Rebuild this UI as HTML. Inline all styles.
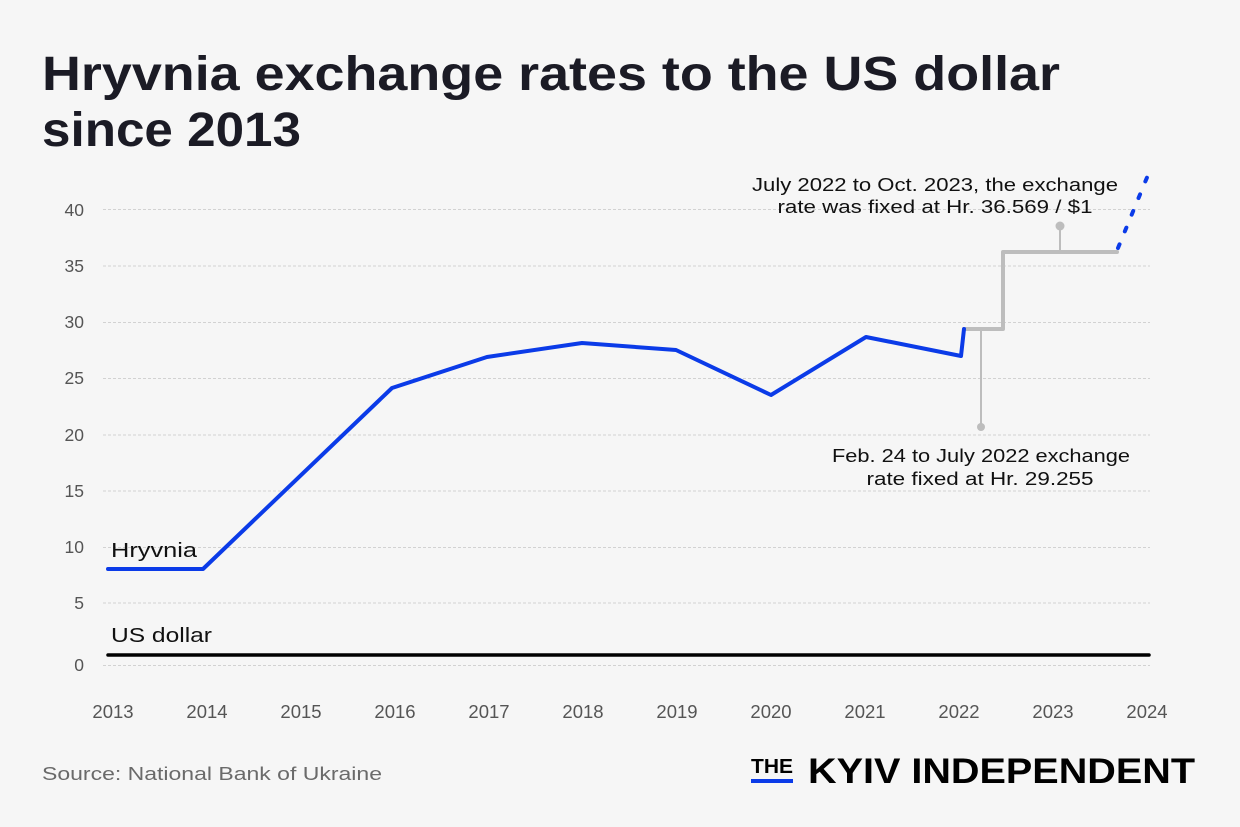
<!DOCTYPE html>
<html><head><meta charset="utf-8"><style>
html,body{margin:0;padding:0;background:#f6f6f6;}
svg{display:block;}
text{font-family:"Liberation Sans",sans-serif;}
</style></head><body>
<svg width="1240" height="827" viewBox="0 0 1240 827" xmlns="http://www.w3.org/2000/svg">
<rect width="1240" height="827" fill="#f6f6f6"/>
<text x="42" y="90" font-size="48" font-weight="bold" fill="#1b1b25" textLength="1018" lengthAdjust="spacingAndGlyphs">Hryvnia exchange rates to the US dollar</text>
<text x="42" y="146" font-size="48" font-weight="bold" fill="#1b1b25" textLength="259" lengthAdjust="spacingAndGlyphs">since 2013</text>
<g stroke="#d2d2d2" stroke-width="1" stroke-dasharray="3,2">
<line x1="103" y1="209.5" x2="1150" y2="209.5"/>
<line x1="103" y1="266" x2="1150" y2="266"/>
<line x1="103" y1="322.5" x2="1150" y2="322.5"/>
<line x1="103" y1="378.5" x2="1150" y2="378.5"/>
<line x1="103" y1="435" x2="1150" y2="435"/>
<line x1="103" y1="491" x2="1150" y2="491"/>
<line x1="103" y1="547.5" x2="1150" y2="547.5"/>
<line x1="103" y1="603" x2="1150" y2="603"/>
<line x1="103" y1="665.5" x2="1150" y2="665.5"/>
</g>
<g font-size="17.5" fill="#555" text-anchor="end">
<text x="84" y="216">40</text>
<text x="84" y="272">35</text>
<text x="84" y="328">30</text>
<text x="84" y="384">25</text>
<text x="84" y="441">20</text>
<text x="84" y="497">15</text>
<text x="84" y="553">10</text>
<text x="84" y="609">5</text>
<text x="84" y="671">0</text>
</g>
<g font-size="18.5" fill="#555" text-anchor="middle">
<text x="113" y="718">2013</text>
<text x="207" y="718">2014</text>
<text x="301" y="718">2015</text>
<text x="395" y="718">2016</text>
<text x="489" y="718">2017</text>
<text x="583" y="718">2018</text>
<text x="677" y="718">2019</text>
<text x="771" y="718">2020</text>
<text x="865" y="718">2021</text>
<text x="959" y="718">2022</text>
<text x="1053" y="718">2023</text>
<text x="1147" y="718">2024</text>
</g>
<line x1="108" y1="655" x2="1149" y2="655" stroke="#000" stroke-width="3.5" stroke-linecap="round"/>
<!-- annotations -->
<line x1="981" y1="329" x2="981" y2="427" stroke="#bdbdbd" stroke-width="2"/>
<circle cx="981" cy="427" r="4" fill="#bdbdbd"/>
<line x1="1060" y1="252" x2="1060" y2="226" stroke="#bdbdbd" stroke-width="2"/>
<circle cx="1060" cy="226" r="4.5" fill="#bdbdbd"/>
<polyline points="964,329 1003,329 1003,252 1117,252" fill="none" stroke="#bdbdbd" stroke-width="4" stroke-linejoin="round" stroke-linecap="round"/>
<polyline points="108,569 203,569 392,388 487,357 582,343 676,350 771,395 866,337 961,356 964,329" fill="none" stroke="#0b3be8" stroke-width="4" stroke-linejoin="round" stroke-linecap="round"/>
<line x1="1118" y1="248" x2="1148" y2="175" stroke="#0b3be8" stroke-width="4" stroke-dasharray="4,14" stroke-linecap="round"/>
<g font-size="18" fill="#111" text-anchor="middle">
<text x="935" y="191" textLength="366" lengthAdjust="spacingAndGlyphs">July 2022 to Oct. 2023, the exchange</text>
<text x="935" y="213" textLength="315" lengthAdjust="spacingAndGlyphs">rate was fixed at Hr. 36.569 / $1</text>
<text x="981" y="462" textLength="298" lengthAdjust="spacingAndGlyphs">Feb. 24 to July 2022 exchange</text>
<text x="980" y="485" textLength="227" lengthAdjust="spacingAndGlyphs">rate fixed at Hr. 29.255</text>
</g>
<text x="111" y="557" font-size="20" fill="#111" textLength="86" lengthAdjust="spacingAndGlyphs">Hryvnia</text>
<text x="111" y="642" font-size="20" fill="#111" textLength="101" lengthAdjust="spacingAndGlyphs">US dollar</text>
<text x="42" y="780" font-size="18" fill="#6a6a6a" textLength="340" lengthAdjust="spacingAndGlyphs">Source: National Bank of Ukraine</text>
<text x="751" y="773" font-size="20" font-weight="bold" fill="#000" textLength="42" lengthAdjust="spacingAndGlyphs">THE</text>
<rect x="751" y="779" width="42" height="4" fill="#0b3be8"/>
<text x="808" y="783" font-size="35" font-weight="bold" fill="#000" textLength="387" lengthAdjust="spacingAndGlyphs">KYIV INDEPENDENT</text>
</svg>
</body></html>
